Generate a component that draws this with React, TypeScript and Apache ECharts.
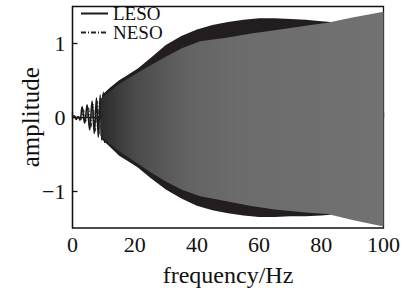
import React, { useEffect, useRef } from "react";
import * as echarts from "echarts";

// Early, visibly oscillating part of the LESO response (frequency Hz, amplitude)
const lesoEarlyFreq = [0, 0.6, 1.2, 1.8, 2.4, 3.1, 3.9, 4.7, 5.5, 6.3, 7.0, 7.7, 8.3, 8.9, 9.4, 9.9, 10.4];
const lesoEarlyAmp = [0, 0.02, -0.03, 0.01, -0.04, 0.14, -0.08, 0.17, -0.17, 0.22, -0.22, 0.26, -0.27, 0.3, -0.31, 0.34, -0.35];

// Early part of the NESO response
const nesoEarlyFreq = [0, 0.7, 1.4, 2.1, 2.8, 3.5, 4.3, 5.1, 5.9, 6.6, 7.3, 8.0, 8.6, 9.2];
const nesoEarlyAmp = [0, 0.01, -0.02, 0.01, -0.03, 0.1, -0.07, 0.13, -0.14, 0.18, -0.19, 0.22, -0.23, 0.25];

// Envelope of the dense LESO oscillation (black)
const lesoBandFreq = [9.5, 12, 15, 18, 21, 25, 30, 35, 40, 45, 50, 55, 60, 65, 70, 75, 80, 83];
const lesoBandUpper = [0.3, 0.4, 0.5, 0.58, 0.66, 0.8, 0.98, 1.1, 1.19, 1.25, 1.29, 1.32, 1.34, 1.34, 1.33, 1.32, 1.3, 1.29];
const lesoBandLower = [-0.3, -0.4, -0.52, -0.6, -0.68, -0.82, -0.98, -1.1, -1.2, -1.26, -1.3, -1.33, -1.35, -1.35, -1.34, -1.34, -1.33, -1.32];

// Envelope of the dense NESO oscillation (grey)
const nesoBandFreq = [9, 12, 15, 20, 25, 30, 35, 41, 50, 57, 65, 75, 82, 90, 100];
const nesoBandUpper = [0.25, 0.35, 0.45, 0.58, 0.7, 0.82, 0.93, 1.03, 1.08, 1.13, 1.18, 1.24, 1.28, 1.35, 1.43];
const nesoBandLower = [-0.25, -0.36, -0.46, -0.6, -0.74, -0.87, -0.98, -1.07, -1.14, -1.2, -1.25, -1.29, -1.31, -1.39, -1.48];

const xTicks = [0, 20, 40, 60, 80, 100];
const yTicks = [-1, 0, 1];

const FONT = "'Liberation Serif', 'Times New Roman', serif";

function bandSeries(
  name: string,
  freq: number[],
  upper: number[],
  lower: number[],
  fillFn: (x0: number, x1: number) => any
) {
  return {
    type: "custom",
    name,
    silent: true,
    data: freq.map((f, i) => [f, upper[i], lower[i]]),
    encode: { x: 0, y: [1, 2] },
    renderItem: (params: any, api: any) => {
      if (params.dataIndex !== 0) return null;
      const pts: number[][] = [];
      for (let i = 0; i < freq.length; i++) pts.push(api.coord([freq[i], upper[i]]));
      for (let i = freq.length - 1; i >= 0; i--) pts.push(api.coord([freq[i], lower[i]]));
      const x0 = api.coord([freq[0], 0])[0];
      const x1 = api.coord([freq[freq.length - 1], 0])[0];
      return {
        type: "polygon",
        shape: { points: pts },
        style: { fill: fillFn(x0, x1), stroke: null },
      };
    },
  };
}

export default function App() {
  const ref = useRef<HTMLDivElement>(null);
  useEffect(() => {
    if (!ref.current) return;
    const chart = echarts.init(ref.current, null, { renderer: "svg" });
    const option: any = {
      animation: false,
      backgroundColor: "#ffffff",
      grid: {
        left: 72.5,
        right: 19.5,
        top: 6.5,
        bottom: 60,
        show: true,
        borderColor: "#111",
        borderWidth: 1.3,
        backgroundColor: "transparent",
        containLabel: false,
        outerBoundsMode: "none",
      },
      legend: {
        orient: "vertical",
        left: 80,
        top: 4,
        padding: 0,
        itemGap: 0,
        itemWidth: 27,
        itemHeight: 14,
        itemTextGap: 4,
        itemStyle: { opacity: 0, borderWidth: 0 },
        data: [{ name: "LESO" }, { name: "NESO" }],
        textStyle: { fontFamily: FONT, fontSize: 19, color: "#111" },
      },
      xAxis: {
        type: "value",
        min: 0,
        max: 100,
        interval: 20,
        name: "frequency/Hz",
        nameLocation: "middle",
        nameGap: 35,
        nameMoveOverlap: false,
        nameTextStyle: { fontFamily: FONT, fontSize: 24, color: "#111" },
        axisLine: { show: true, lineStyle: { color: "#111", width: 1.3 } },
        axisTick: { show: true, inside: true, length: 5, lineStyle: { color: "#111", width: 1.3 } },
        axisLabel: {
          fontFamily: FONT,
          fontSize: 22,
          color: "#111",
          margin: 5,
          customValues: xTicks,
        },
        splitLine: { show: false },
      },
      yAxis: {
        type: "value",
        min: -1.5,
        max: 1.5,
        name: "amplitude",
        nameLocation: "middle",
        nameRotate: 90,
        nameGap: 30,
        nameMoveOverlap: false,
        nameTextStyle: { fontFamily: FONT, fontSize: 25, color: "#111" },
        axisLine: { show: true, lineStyle: { color: "#111", width: 1.3 } },
        axisTick: { show: true, inside: true, length: 5, customValues: yTicks, lineStyle: { color: "#111", width: 1.3 } },
        axisLabel: {
          fontFamily: FONT,
          fontSize: 22,
          color: "#111",
          margin: 7,
          customValues: yTicks,
          formatter: (v: number) => (v < 0 ? "\u2212" + Math.abs(v) : String(v)),
        },
        splitLine: { show: false },
      },
      series: [
        {
          type: "line",
          name: "NESO",
          data: nesoEarlyFreq.map((f, i) => [f, nesoEarlyAmp[i]]),
          symbol: "none",
          smooth: 0.4,
          lineStyle: { color: "#222", width: 1, type: [5, 2, 1, 2] },
          itemStyle: { color: "#222" },
          z: 2,
        },
        {
          type: "line",
          name: "LESO",
          data: lesoEarlyFreq.map((f, i) => [f, lesoEarlyAmp[i]]),
          symbol: "none",
          smooth: 0.4,
          lineStyle: { color: "#1a1a1a", width: 1.6 },
          itemStyle: { color: "#1a1a1a" },
          z: 3,
        },
        Object.assign(
          bandSeries("LESO band", lesoBandFreq, lesoBandUpper, lesoBandLower, () => "#221e1f"),
          { z: 4 }
        ),
        Object.assign(
          bandSeries("NESO band", nesoBandFreq, nesoBandUpper, nesoBandLower, (x0: number, x1: number) =>
            new echarts.graphic.LinearGradient(
              x0,
              0,
              x1,
              0,
              [
                { offset: 0, color: "#2a2a2a" },
                { offset: 0.12, color: "#4a4a4a" },
                { offset: 0.3, color: "#626262" },
                { offset: 0.5, color: "#6c6c6c" },
                { offset: 1, color: "#717171" },
              ],
              true
            )
          ),
          { z: 5 }
        ),
      ],
    };
    chart.setOption(option);
    return () => chart.dispose();
  }, []);
  return <div ref={ref} style={{ width: 403, height: 288, position: "fixed", left: 0, top: 0 }} />;
}
